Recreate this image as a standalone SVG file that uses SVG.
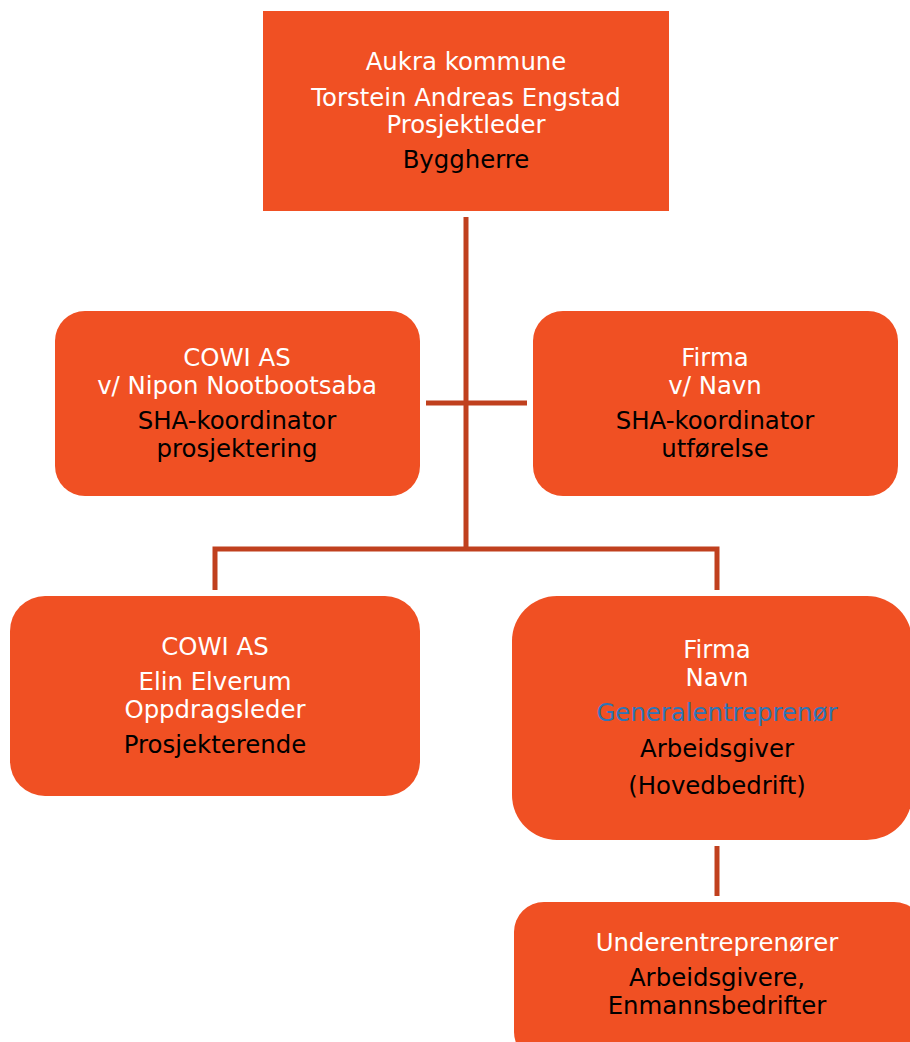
<svg xmlns="http://www.w3.org/2000/svg" width="910" height="1042" viewBox="0 0 910 1042">
<style>
.box{fill:#F05023}
.t{font-family:"DejaVu Sans",Verdana,sans-serif;font-size:24.4px;text-anchor:middle}
.w{fill:#FFFFFF}
.k{fill:#000000}
.b{fill:#2E75B6}
.c{stroke:#C0401E;stroke-width:5;fill:none}
</style>
<rect width="910" height="1042" fill="#FFFFFF"/>
<g id="connectors">
<line class="c" x1="466" y1="217" x2="466" y2="549"/>
<line class="c" x1="426" y1="403" x2="527" y2="403"/>
<polyline class="c" points="215,590 215,549 717,549 717,590"/>
<line class="c" x1="717" y1="846" x2="717" y2="896"/>
</g>
<g id="n-byggherre">
<rect class="box" x="263" y="11" width="406" height="200"/>
<text class="t w" x="466" y="70">Aukra kommune</text>
<text class="t w" x="466" y="106">Torstein Andreas Engstad</text>
<text class="t w" x="466" y="133">Prosjektleder</text>
<text class="t k" x="466" y="168">Byggherre</text>
</g>
<g id="n-sha-prosj">
<rect class="box" x="55" y="311" width="365" height="185" rx="30"/>
<text class="t w" x="237" y="366">COWI AS</text>
<text class="t w" x="237" y="394">v/ Nipon Nootbootsaba</text>
<text class="t k" x="237" y="429">SHA-koordinator</text>
<text class="t k" x="237" y="457">prosjektering</text>
</g>
<g id="n-sha-utf">
<rect class="box" x="533" y="311" width="365" height="185" rx="30"/>
<text class="t w" x="715" y="366">Firma</text>
<text class="t w" x="715" y="394">v/ Navn</text>
<text class="t k" x="715" y="429">SHA-koordinator</text>
<text class="t k" x="715" y="457">utførelse</text>
</g>
<g id="n-prosjekterende">
<rect class="box" x="10" y="596" width="410" height="200" rx="35"/>
<text class="t w" x="215" y="655">COWI AS</text>
<text class="t w" x="215" y="690">Elin Elverum</text>
<text class="t w" x="215" y="718">Oppdragsleder</text>
<text class="t k" x="215" y="753">Prosjekterende</text>
</g>
<g id="n-ge">
<rect class="box" x="512" y="596" width="400" height="244" rx="45"/>
<text class="t w" x="717" y="658">Firma</text>
<text class="t w" x="717" y="686">Navn</text>
<text class="t b" x="717" y="721">Generalentreprenør</text>
<text class="t k" x="717" y="757">Arbeidsgiver</text>
<text class="t k" x="717" y="794">(Hovedbedrift)</text>
</g>
<g id="n-ue">
<rect class="box" x="514" y="902" width="410" height="160" rx="30"/>
<text class="t w" x="717" y="951">Underentreprenører</text>
<text class="t k" x="717" y="986">Arbeidsgivere,</text>
<text class="t k" x="717" y="1014">Enmannsbedrifter</text>
</g>
</svg>
